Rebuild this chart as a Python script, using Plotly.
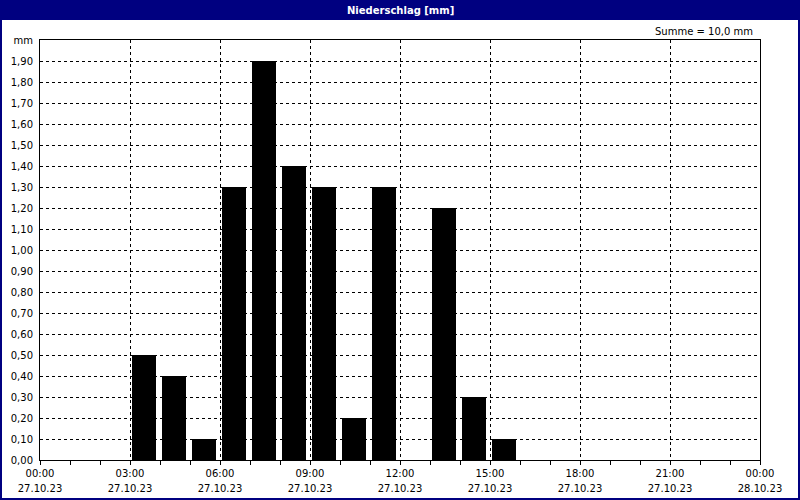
import plotly.graph_objects as go

# hourly precipitation, 27.10.23
hours = ["2023-10-27 03:00", "2023-10-27 04:00", "2023-10-27 05:00", "2023-10-27 06:00",
         "2023-10-27 07:00", "2023-10-27 08:00", "2023-10-27 09:00", "2023-10-27 10:00",
         "2023-10-27 11:00", "2023-10-27 12:00", "2023-10-27 13:00", "2023-10-27 14:00",
         "2023-10-27 15:00"]
rain_mm = [0.5, 0.4, 0.1, 1.3, 1.9, 1.4, 1.3, 0.2, 1.3, 0.0, 1.2, 0.3, 0.1]

y_tickvals = [i / 10 for i in range(21)]
y_ticktext = [f"{v:.2f}".replace(".", ",") for v in y_tickvals[:-1]] + ["mm"]

HOUR = 3600000
FONT = "DejaVu Sans"
NAVY = "#000080"
x_range = ["2023-10-27 00:00", "2023-10-28 00:00"]

fig = go.Figure()
fig.add_trace(go.Bar(
    x=hours, y=rain_mm,
    width=[0.8 * HOUR] * len(hours),
    offset=0.07 * HOUR,
    marker=dict(color="black", line=dict(width=0)),
    hoverinfo="x+y",
))

fig.update_layout(
    width=800, height=500,
    margin=dict(l=40, r=40, t=40, b=40),
    paper_bgcolor="white", plot_bgcolor="white",
    showlegend=False,
    font=dict(family=FONT, size=10, color="black"),
    bargap=0,
)

fig.update_xaxes(
    type="date", range=x_range,
    dtick=3 * HOUR, tick0=x_range[0],
    tickformat="%H:%M",
    ticks="outside", ticklen=4, tickcolor="black",
    showgrid=True, gridcolor="black", griddash="3px,3px", gridwidth=1,
    minor=dict(dtick=HOUR, ticks="outside", ticklen=4, tickcolor="black", showgrid=False),
    showline=True, linecolor="black", linewidth=1, mirror=True,
    zeroline=False, fixedrange=True, automargin=False,
)
fig.update_yaxes(
    range=[0, 2.0],
    tickvals=y_tickvals, ticktext=y_ticktext,
    ticks="", ticklabelstandoff=4,
    showgrid=True, gridcolor="black", griddash="3px,3px", gridwidth=1,
    showline=True, linecolor="black", linewidth=1, mirror=True,
    zeroline=False, fixedrange=True, automargin=False,
)
# second row of x labels (date)
fig.update_layout(xaxis2=dict(
    type="date", range=x_range, overlaying="x", side="bottom", anchor="y",
    dtick=3 * HOUR, tick0=x_range[0], tickformat="%d.%m.%y",
    ticks="", ticklabelstandoff=21, showgrid=False, showline=False,
    zeroline=False, fixedrange=True, automargin=False,
))
fig.add_trace(go.Scatter(x=x_range, y=[None, None], xaxis="x2", showlegend=False,
                         hoverinfo="skip"))

# title bar and outer border
fig.add_shape(type="rect", xref="paper", yref="paper",
              x0=-40 / 720, x1=1 + 40 / 720, y0=1 + 20 / 420, y1=1 + 40 / 420,
              fillcolor=NAVY, line=dict(width=0), layer="below")
fig.add_shape(type="rect", xref="paper", yref="paper",
              x0=-39 / 720, x1=1 + 39 / 720, y0=-39 / 420, y1=1 + 39 / 420,
              fillcolor="rgba(0,0,0,0)", line=dict(color=NAVY, width=2))
fig.add_annotation(text="<b>Niederschlag [mm]</b>", xref="paper", yref="paper",
                   x=0.5, y=1 + 30 / 420, xanchor="center", yanchor="middle",
                   showarrow=False, font=dict(color="white", size=10, family=FONT))
fig.add_annotation(text="Summe = 10,0 mm", xref="paper", yref="paper",
                   x=1 - 5 / 720, y=1 + 9 / 420, xanchor="right", yanchor="middle",
                   showarrow=False, font=dict(size=10, family=FONT))

fig.write_html("out.html", config={"displayModeBar": False},
               post_script="document.body.style.margin='0';")
